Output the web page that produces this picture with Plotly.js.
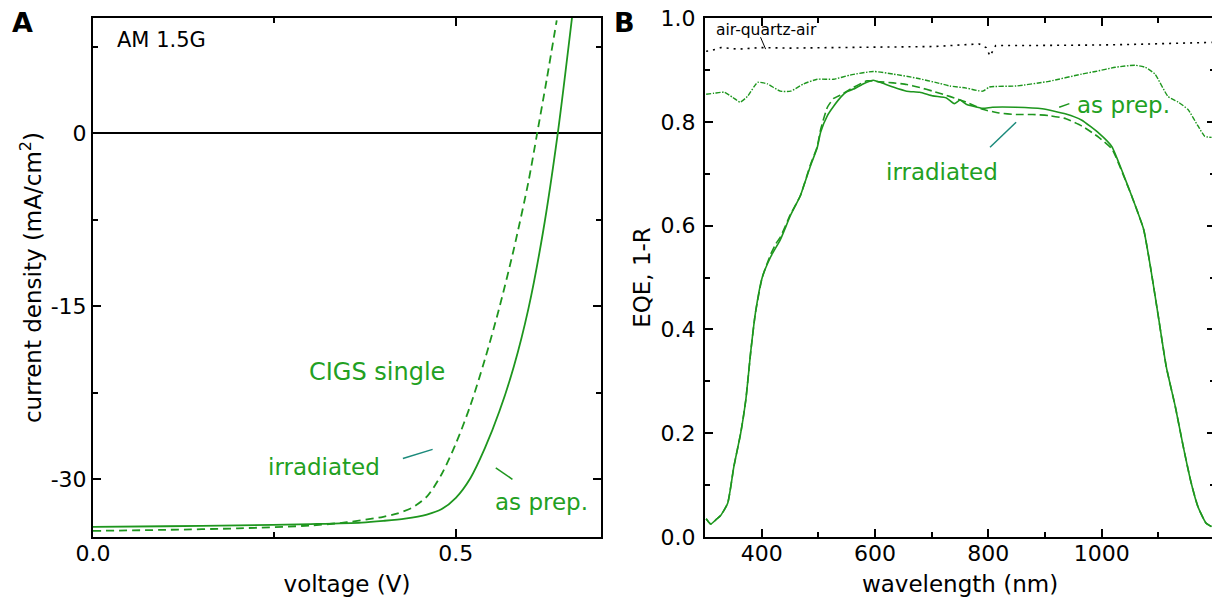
<!DOCTYPE html>
<html>
<head>
<meta charset="utf-8">
<script src="https://cdn.plot.ly/plotly-3.0.1.min.js"></script>
<style>
html,body{margin:0;padding:0;overflow:hidden;background:#fff;width:1212px;height:603px}
#chart{width:1216px;height:603px}
</style>
</head>
<body>
<div id="chart"></div>
<script>
// ---------- Panel A: J-V curves ----------
const voltAsPrep = [0, 0.1, 0.2, 0.3, 0.37, 0.4, 0.43, 0.46, 0.48, 0.5, 0.52, 0.54, 0.56, 0.58, 0.6, 0.62, 0.64, 0.66];
const jAsPrep    = [-34.13, -34.07, -34.0, -33.88, -33.75, -33.6, -33.4, -33.05, -32.6, -31.6, -29.9, -27.3, -24.1, -20.2, -15.2, -8.6, -0.2, 10];
const voltIrr    = [0, 0.1, 0.2, 0.3, 0.35, 0.4, 0.42, 0.44, 0.46, 0.48, 0.5, 0.52, 0.54, 0.56, 0.58, 0.6, 0.612, 0.625, 0.639];
const jIrr       = [-34.47, -34.38, -34.25, -34.0, -33.72, -33.25, -32.95, -32.45, -31.5, -29.6, -26.9, -23.6, -19.6, -15.1, -10.0, -4.2, 0, 4.6, 9.8];
const voltTicks  = [0, 0.5];
const voltTickText = ['0.0', '0.5'];
const jTicks     = [0, -15, -30];
const jTickText  = ['0', '-15', '-30'];

// ---------- Panel B: EQE and 1-R ----------
const wlEqeAsPrep = [302, 310, 320, 328, 340, 351, 363, 372, 381, 389, 401, 416, 433, 451, 468, 486, 498, 504, 516, 527, 540, 550, 562, 579, 597, 609, 632, 656, 679, 702, 726, 740, 750, 761, 790, 807, 849, 895, 937, 965, 995, 1018, 1035, 1053, 1074, 1086, 1100, 1114, 1130, 1144, 1158, 1170, 1184, 1194];
const eqeAsPrep   = [0.035, 0.025, 0.034, 0.042, 0.065, 0.136, 0.20, 0.264, 0.36, 0.432, 0.50, 0.54, 0.573, 0.62, 0.657, 0.715, 0.75, 0.78, 0.812, 0.83, 0.848, 0.858, 0.863, 0.873, 0.88, 0.876, 0.867, 0.859, 0.857, 0.85, 0.846, 0.835, 0.842, 0.834, 0.826, 0.828, 0.828, 0.825, 0.815, 0.803, 0.778, 0.752, 0.708, 0.657, 0.593, 0.521, 0.425, 0.328, 0.251, 0.174, 0.104, 0.058, 0.027, 0.02];
const wlEqeIrr    = [302, 310, 320, 328, 340, 351, 363, 372, 381, 389, 401, 416, 425, 433, 451, 468, 486, 498, 504, 516, 527, 540, 560, 586, 609, 632, 656, 679, 702, 726, 740, 761, 790, 819, 849, 878, 907, 937, 965, 995, 1018, 1035, 1053, 1074, 1086, 1100, 1114, 1130, 1144, 1158, 1170, 1184, 1194];
const eqeIrr      = [0.035, 0.025, 0.034, 0.042, 0.065, 0.136, 0.20, 0.264, 0.36, 0.432, 0.50, 0.545, 0.565, 0.578, 0.622, 0.657, 0.717, 0.752, 0.785, 0.828, 0.845, 0.852, 0.865, 0.879, 0.877, 0.875, 0.872, 0.866, 0.859, 0.851, 0.846, 0.838, 0.824, 0.817, 0.814, 0.814, 0.812, 0.806, 0.792, 0.77, 0.748, 0.706, 0.657, 0.593, 0.521, 0.425, 0.328, 0.251, 0.174, 0.104, 0.058, 0.027, 0.02];
const wlOneMinusR = [302, 316, 334, 349, 362, 375, 393, 410, 433, 451, 474, 498, 527, 556, 597, 632, 674, 714, 732, 761, 790, 802, 849, 907, 965, 989, 1024, 1059, 1077, 1094, 1117, 1135, 1152, 1170, 1182, 1194];
const oneMinusR   = [0.853, 0.855, 0.857, 0.847, 0.838, 0.849, 0.876, 0.873, 0.859, 0.859, 0.873, 0.882, 0.882, 0.89, 0.897, 0.892, 0.884, 0.874, 0.869, 0.865, 0.859, 0.867, 0.869, 0.878, 0.892, 0.897, 0.905, 0.909, 0.905, 0.892, 0.849, 0.838, 0.824, 0.792, 0.772, 0.77];
const wlQuartz    = [302, 310, 328, 360, 398, 450, 527, 600, 702, 784, 796, 803, 813, 877, 950, 995, 1050, 1112, 1150, 1194];
const quartz      = [0.936, 0.937, 0.943, 0.94, 0.943, 0.942, 0.943, 0.944, 0.945, 0.95, 0.943, 0.927, 0.947, 0.947, 0.947, 0.948, 0.949, 0.951, 0.952, 0.953];
const wlTicks     = [400, 600, 800, 1000];
const eqeTicks    = [0, 0.2, 0.4, 0.6, 0.8, 1.0];
const eqeTickText = ['0.0', '0.2', '0.4', '0.6', '0.8', '1.0'];

const FONT = 'DejaVu Sans';
const GREEN = '#1e961e';
const TEXTGREEN = '#22a022';
const TEAL = '#1b8a7b';
const W = 1216;

const traces = [
  {x: voltAsPrep, y: jAsPrep, xaxis: 'x', yaxis: 'y', mode: 'lines', line: {color: GREEN, width: 1.8, shape: 'spline', smoothing: 0.8}, name: 'as prep.'},
  {x: voltIrr, y: jIrr, xaxis: 'x', yaxis: 'y', mode: 'lines', line: {color: GREEN, width: 1.8, dash: '8px,5px', shape: 'spline', smoothing: 0.8}, name: 'irradiated'},
  {x: wlQuartz, y: quartz, xaxis: 'x2', yaxis: 'y2', mode: 'lines', line: {color: '#000', width: 1.6, dash: '2px,5px'}, name: 'air-quartz-air'},
  {x: wlOneMinusR, y: oneMinusR, xaxis: 'x2', yaxis: 'y2', mode: 'lines', line: {color: GREEN, width: 1.4, dash: '5px,1.5px,1.5px,1.5px', shape: 'spline', smoothing: 0.5}, name: '1-R'},
  {x: wlEqeIrr, y: eqeIrr, xaxis: 'x2', yaxis: 'y2', mode: 'lines', line: {color: GREEN, width: 1.6, dash: '8px,4px', shape: 'spline', smoothing: 0.5}, name: 'EQE irradiated'},
  {x: wlEqeAsPrep, y: eqeAsPrep, xaxis: 'x2', yaxis: 'y2', mode: 'lines', line: {color: GREEN, width: 1.6, shape: 'spline', smoothing: 0.5}, name: 'EQE as prep.'}
];

const axBase = {
  showline: true, linecolor: '#000', linewidth: 2, mirror: 'ticks',
  ticks: 'inside', ticklen: 8, tickwidth: 2, tickcolor: '#000',
  showgrid: false, zeroline: false, fixedrange: true,
  tickfont: {family: FONT, size: 22, color: '#000'}
};
function ax(extra) { return Object.assign({}, axBase, extra); }
function minorAx(vals) { return {tickvals: vals, ticks: 'inside', ticklen: 5, tickwidth: 2, tickcolor: '#000', showgrid: false}; }

const titleFont = {family: FONT, size: 23, color: '#000'};

const layout = {
  width: W, height: 603,
  margin: {l: 0, r: 0, t: 18, b: 66},
  paper_bgcolor: '#fff', plot_bgcolor: '#fff',
  showlegend: false,
  font: {family: FONT, color: '#000'},
  xaxis: ax({domain: [93 / W, 601 / W], range: [0, 0.7], tickvals: voltTicks, ticktext: voltTickText,
    ticklabelstandoff: -4, minor: minorAx([0.25]),
    title: {text: 'voltage (V)', font: titleFont, standoff: 10}, anchor: 'y'}),
  yaxis: ax({domain: [0, 1], range: [-35, 10], tickvals: jTicks, ticktext: jTickText,
    ticklabelstandoff: 0,
    zeroline: true, zerolinecolor: '#000', zerolinewidth: 2,
    minor: minorAx([7.5, -7.5, -22.5]),
    title: {text: 'current density (mA/cm<sup>2</sup>)', font: titleFont, standoff: 3}, anchor: 'x'}),
  xaxis2: ax({domain: [705 / W, 1215 / W], range: [300, 1200], tickvals: wlTicks,
    ticklabelstandoff: -4, minor: minorAx([500, 700, 900, 1100]),
    title: {text: 'wavelength (nm)', font: titleFont, standoff: 10}, anchor: 'y2'}),
  yaxis2: ax({domain: [0, 1], range: [0, 1.0], tickvals: eqeTicks, ticktext: eqeTickText,
    ticklabelstandoff: 3, minor: minorAx([0.1, 0.3, 0.5, 0.7, 0.9]),
    title: {text: 'EQE, 1-R', font: titleFont, standoff: 4}, anchor: 'x2'}),
  annotations: [
    {xref: 'paper', yref: 'paper', x: 22 / W, y: 1 - 4.5 / 519, text: '<b>A</b>', showarrow: false, font: {family: FONT, size: 27, color: '#000'}, xanchor: 'center', yanchor: 'middle'},
    {xref: 'paper', yref: 'paper', x: 624 / W, y: 1 - 4.5 / 519, text: '<b>B</b>', showarrow: false, font: {family: FONT, size: 27, color: '#000'}, xanchor: 'center', yanchor: 'middle'},
    {xref: 'x', yref: 'y', x: 0.0303, y: 8.13, text: 'AM 1.5G', showarrow: false, font: {family: FONT, size: 21, color: '#000'}, xanchor: 'left', yanchor: 'middle'},
    {xref: 'x', yref: 'y', x: 0.3919, y: -20.66, text: 'CIGS single', showarrow: false, font: {family: FONT, size: 24, color: TEXTGREEN}, xanchor: 'center', yanchor: 'middle'},
    {xref: 'x', yref: 'y', x: 0.3189, y: -28.96, text: 'irradiated', showarrow: false, font: {family: FONT, size: 23, color: TEXTGREEN}, xanchor: 'center', yanchor: 'middle'},
    {xref: 'x', yref: 'y', x: 0.6185, y: -31.99, text: 'as prep.', showarrow: false, font: {family: FONT, size: 23, color: TEXTGREEN}, xanchor: 'center', yanchor: 'middle'},
    {xref: 'x2', yref: 'y2', x: 315.8, y: 0.977, text: 'air-quartz-air', showarrow: false, font: {family: FONT, size: 15.5, color: '#000'}, xanchor: 'left', yanchor: 'middle'},
    {xref: 'x2', yref: 'y2', x: 1038.6, y: 0.832, text: 'as prep.', showarrow: false, font: {family: FONT, size: 23, color: TEXTGREEN}, xanchor: 'center', yanchor: 'middle'},
    {xref: 'x2', yref: 'y2', x: 718.4, y: 0.703, text: 'irradiated', showarrow: false, font: {family: FONT, size: 23, color: TEXTGREEN}, xanchor: 'center', yanchor: 'middle'}
  ],
  shapes: [
    {type: 'line', xref: 'x', yref: 'y', x0: 0.427, y0: -28.2, x1: 0.468, y1: -27.4, line: {color: TEAL, width: 1.5}},
    {type: 'line', xref: 'x', yref: 'y', x0: 0.555, y0: -29.0, x1: 0.578, y1: -30.0, line: {color: GREEN, width: 1.5}},
    {type: 'line', xref: 'x2', yref: 'y2', x0: 398, y0: 0.963, x1: 407, y1: 0.940, line: {color: '#000', width: 1}},
    {type: 'line', xref: 'x2', yref: 'y2', x0: 925, y0: 0.828, x1: 943, y1: 0.835, line: {color: GREEN, width: 1.5}},
    {type: 'line', xref: 'x2', yref: 'y2', x0: 803, y0: 0.751, x1: 849, y1: 0.799, line: {color: TEAL, width: 1.5}}
  ]
};

Plotly.newPlot('chart', traces, layout, {staticPlot: true, displayModeBar: false, responsive: false});
</script>
</body>
</html>
